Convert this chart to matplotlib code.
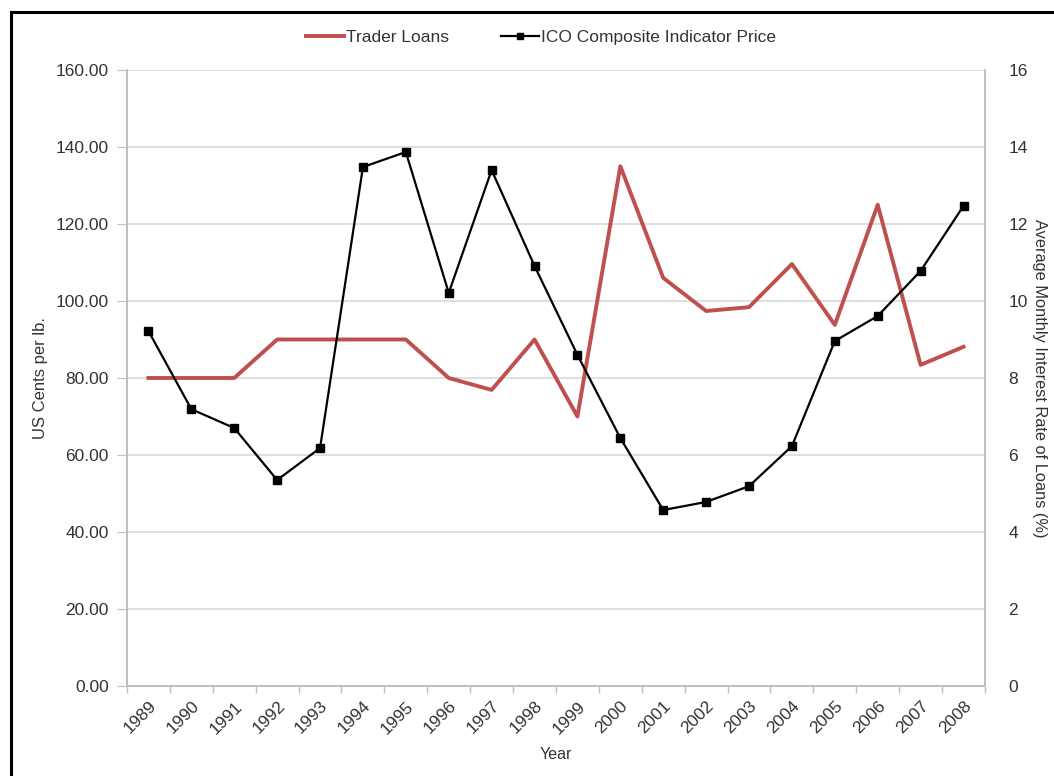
import numpy as np
import matplotlib.pyplot as plt
from matplotlib.lines import Line2D

plt.rcParams['font.family'] = ['Liberation Sans', 'DejaVu Sans']

years = [str(y) for y in range(1989, 2009)]
ico_price = [92.2, 71.9, 67.0, 53.5, 61.8, 134.8, 138.7, 102.1, 134.0, 109.1,
             86.0, 64.4, 45.7, 47.8, 51.9, 62.3, 89.6, 96.1, 107.8, 124.7]
trader_loans = [8.0, 8.0, 8.0, 9.0, 9.0, 9.0, 9.0, 8.0, 7.69, 9.0,
                7.0, 13.5, 10.6, 9.74, 9.84, 10.96, 9.38, 12.5, 8.34, 8.81]

red = '#C0504D'
grey = '#BFBFBF'
txt = '#333333'

fig = plt.figure(figsize=(10.54, 7.76), dpi=100)
ax1 = fig.add_axes([0.1205, 0.116, 0.814, 0.7938])
ax2 = ax1.twinx()

x = np.arange(len(years))

ax2.plot(x, trader_loans, color=red, lw=2.8, zorder=2)
ax1.plot(x, ico_price, color='black', lw=1.6, marker='s', markersize=5.5, zorder=3)

ax1.set_zorder(ax2.get_zorder() + 1)
ax1.patch.set_visible(False)

ax1.set_xlim(-0.5, len(years) - 0.5)
ax1.set_ylim(0, 160)
ax2.set_ylim(0, 16)
ax1.set_yticks(np.arange(0, 161, 20))
ax1.set_yticklabels(['%.2f' % v for v in np.arange(0, 161, 20)])
ax2.set_yticks(np.arange(0, 17, 2))

ax1.set_xticks(x)
ax1.set_xticklabels(years, rotation=45, ha='right', rotation_mode='anchor')
ax1.set_xticks(np.arange(-0.5, len(years)), minor=True)
ax1.tick_params(axis='x', which='major', length=0, pad=9, labelsize=12.5, labelcolor=txt)
ax1.tick_params(axis='x', which='minor', length=5, color=grey, width=1)
ax1.tick_params(axis='y', length=7, color=grey, labelsize=12.5, labelcolor=txt, pad=6)
ax2.tick_params(axis='y', length=0, labelsize=12.5, labelcolor=txt, pad=17)

# grid on the right axis (same positions) so the red line sits above it
ax2.grid(axis='y', color='#D9D9D9', lw=1.2)
ax2.set_axisbelow(True)

for ax in (ax1, ax2):
    ax.spines['top'].set_visible(False)
    for s in ('left', 'bottom', 'right'):
        ax.spines[s].set_color(grey)
        ax.spines[s].set_linewidth(1.2)

ax1.set_ylabel('US Cents per lb.', fontsize=12, color=txt, va='center')
ax1.yaxis.set_label_coords(-0.101, 0.5)
ax2.set_ylabel('Average Monthly Interest Rate of Loans (%)', fontsize=11.8, color=txt,
               rotation=-90, va='center')
ax2.yaxis.set_label_coords(1.064, 0.5)
fig.text(0.527, 0.022, 'Year', fontsize=11.5, color=txt, ha='center')

handles = [Line2D([], [], color=red, lw=2.8),
           Line2D([], [], color='black', lw=1.6, marker='s', markersize=5)]
fig.legend(handles, ['Trader Loans', 'ICO Composite Indicator Price'],
           loc='center', bbox_to_anchor=(0.513, 0.952), ncol=2, frameon=False,
           fontsize=12.5, handlelength=2.2, handletextpad=0.1, columnspacing=3.0,
           labelcolor=txt)

# outer frame (left and top only)
fig.add_artist(Line2D([0.0105, 0.0105], [0, 0.985], color='black', lw=2.2,
                      transform=fig.transFigure))
fig.add_artist(Line2D([0.0105, 1.0], [0.985, 0.985], color='black', lw=2.2,
                      transform=fig.transFigure))

fig.savefig('out.png', dpi=100)
